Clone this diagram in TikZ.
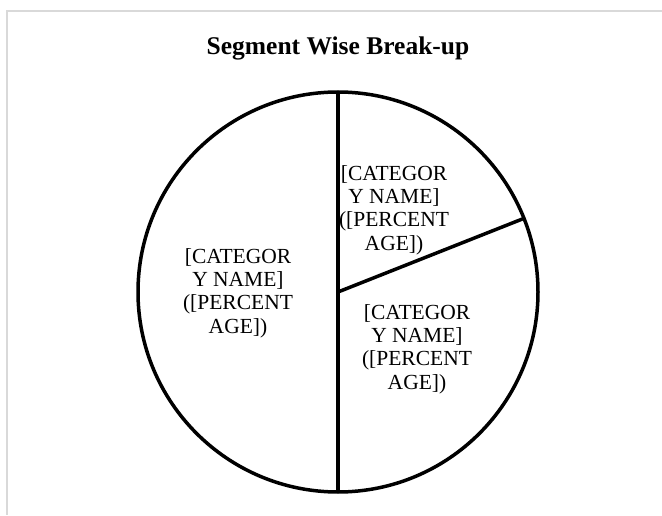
\documentclass[tikz,border=0pt]{standalone}
\usepackage{fontspec}
\setmainfont{Liberation Serif}
\begin{document}
\begin{tikzpicture}[x=1pt,y=1pt,
    slicelabel/.style={align=center, font=\fontsize{21.5}{23.3}\selectfont, inner sep=0pt}]
      \useasboundingbox (0,0) rectangle (662,515);
      \draw[line width=1.5pt, color=black!15] (662,504)--(7,504)--(7,0);
      \node[font=\bfseries\fontsize{25.5}{30}\selectfont] (title) at (338,467) {Segment Wise Break-up};
      \coordinate (ctr) at (338,223);
      \draw[line width=3.5pt] (ctr) circle (200);
      \draw[line width=3.5pt] (ctr)--++(0,200) coordinate (top);
      \draw[line width=3.5pt] (ctr)--++(0,-200) coordinate (bottom);
      \draw[line width=3.5pt] (ctr)--++(21.6:200) coordinate (cut);
      \node[slicelabel] (left) at (238,222) {[CATEGOR\\Y NAME]\\([PERCENT\\AGE])};
      \node[slicelabel] (topright) at (394,305) {[CATEGOR\\Y NAME]\\([PERCENT\\AGE])};
      \node[slicelabel] (botright) at (417,166) {[CATEGOR\\Y NAME]\\([PERCENT\\AGE])};
\end{tikzpicture}
\end{document}
